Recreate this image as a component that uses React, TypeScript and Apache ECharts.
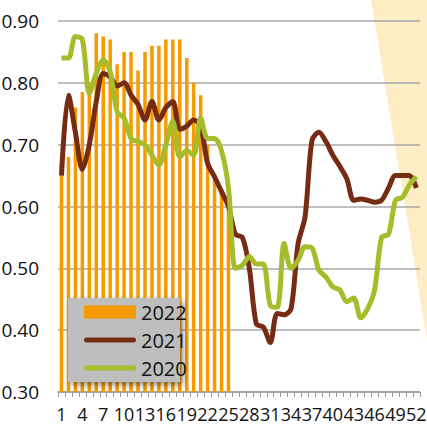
import React, { useEffect, useRef } from "react";
import * as echarts from "echarts";

const weeks = [
  "1","2","3","4","5","6","7","8","9","10","11","12","13","14","15","16","17","18","19","20","21","22","23","24","25","26",
  "27","28","29","30","31","32","33","34","35","36","37","38","39","40","41","42","43","44","45","46","47","48","49","50","51","52",
];

const values2022 = [
  0.65, 0.68, 0.76, 0.785, 0.80, 0.88, 0.875, 0.87, 0.83, 0.85,
  0.85, 0.82, 0.85, 0.86, 0.86, 0.87, 0.87, 0.87, 0.84, 0.80,
  0.78, 0.70, 0.65, 0.62, 0.59,
];

const values2021 = [
  0.65, 0.78, 0.72, 0.66, 0.70, 0.77, 0.815, 0.81, 0.795, 0.80,
  0.78, 0.765, 0.74, 0.77, 0.74, 0.76, 0.77, 0.725, 0.73, 0.74,
  0.73, 0.67, 0.648, 0.624, 0.60, 0.555, 0.55, 0.50, 0.41, 0.405,
  0.38, 0.427, 0.425, 0.435, 0.54, 0.583, 0.707, 0.72, 0.705, 0.683,
  0.665, 0.645, 0.61, 0.612, 0.61, 0.607, 0.61, 0.63, 0.65, 0.65, 0.65, 0.63,
];

const values2020 = [
  0.84, 0.84, 0.875, 0.87, 0.783, 0.816, 0.837, 0.818, 0.753, 0.743,
  0.71, 0.705, 0.70, 0.683, 0.667, 0.70, 0.738, 0.68, 0.69, 0.683,
  0.743, 0.71, 0.71, 0.69, 0.63, 0.50, 0.505, 0.519, 0.507, 0.507,
  0.44, 0.437, 0.54, 0.50, 0.513, 0.535, 0.533, 0.497, 0.486, 0.47,
  0.465, 0.446, 0.452, 0.42, 0.435, 0.465, 0.55, 0.555, 0.61, 0.615, 0.635, 0.648,
];

const FONT = "'Open Sans', sans-serif";
const STRETCH = "500 condensed";
const LINE_ICON = "path://M2.5,0 H49.5 A2.5,2.5 0 0 1 49.5,5 H2.5 A2.5,2.5 0 0 1 2.5,0 Z";

export default function App() {
  const ref = useRef<HTMLDivElement>(null);
  useEffect(() => {
    if (!ref.current) return;
    const chart = echarts.init(ref.current, undefined, { renderer: "svg" });
    chart.setOption({
      animation: false,
      backgroundColor: "#ffffff",
      graphic: [
        {
          type: "polygon",
          z: -10,
          silent: true,
          shape: { points: [[371, 0], [427, 0], [427, 340]] },
          style: { fill: "#FDEDC4" },
        },
      ],
      grid: { left: 58, right: 5, top: 21, bottom: 36, containLabel: false },
      legend: {
        left: 68,
        top: 298,
        orient: "vertical",
        backgroundColor: "#BEBEBE",
        padding: [4, 5, 4, 16],
        itemGap: 8,
        itemWidth: 52,
        itemHeight: 13,
        shadowColor: "rgba(0,0,0,0.45)",
        shadowBlur: 6,
        shadowOffsetX: 3,
        shadowOffsetY: 3,
        textStyle: { fontSize: 20, color: "#111", fontFamily: FONT, fontWeight: STRETCH },
        data: [
          { name: "2022", icon: "rect" },
          { name: "2021", icon: LINE_ICON },
          { name: "2020", icon: LINE_ICON },
        ],
      },
      xAxis: {
        type: "category",
        data: weeks,
        boundaryGap: true,
        axisLine: { lineStyle: { color: "#9A9A9A", width: 1.5 } },
        axisTick: { show: true, interval: 0, length: 5, lineStyle: { color: "#9A9A9A" } },
        axisLabel: {
          interval: 2,
          fontSize: 18,
          color: "#111",
          fontFamily: FONT,
          fontWeight: STRETCH,
          margin: 13,
        },
      },
      yAxis: {
        type: "value",
        min: 0.3,
        max: 0.9,
        interval: 0.1,
        axisLine: { show: false },
        axisTick: { show: false },
        axisLabel: {
          fontSize: 19,
          color: "#111",
          fontFamily: FONT,
          fontWeight: STRETCH,
          margin: 19,
          formatter: (v: number) => v.toFixed(2),
        },
        splitLine: { lineStyle: { color: "#A8A8A8", width: 1.5 } },
      },
      series: [
        {
          name: "2022",
          type: "bar",
          data: values2022,
          barWidth: 3.5,
          itemStyle: { color: "#F79A00" },
        },
        {
          name: "2021",
          type: "line",
          data: values2021,
          smooth: 0.3,
          symbol: "none",
          lineStyle: { color: "#762C12", width: 5 },
          itemStyle: { color: "#762C12" },
        },
        {
          name: "2020",
          type: "line",
          data: values2020,
          smooth: 0.3,
          symbol: "none",
          lineStyle: { color: "#A6BC2A", width: 5 },
          itemStyle: { color: "#A6BC2A" },
        },
      ],
    });
    return () => chart.dispose();
  }, []);
  return (
    <div
      ref={ref}
      style={{ position: "fixed", left: 0, top: 0, width: 427, height: 428 }}
    />
  );
}
